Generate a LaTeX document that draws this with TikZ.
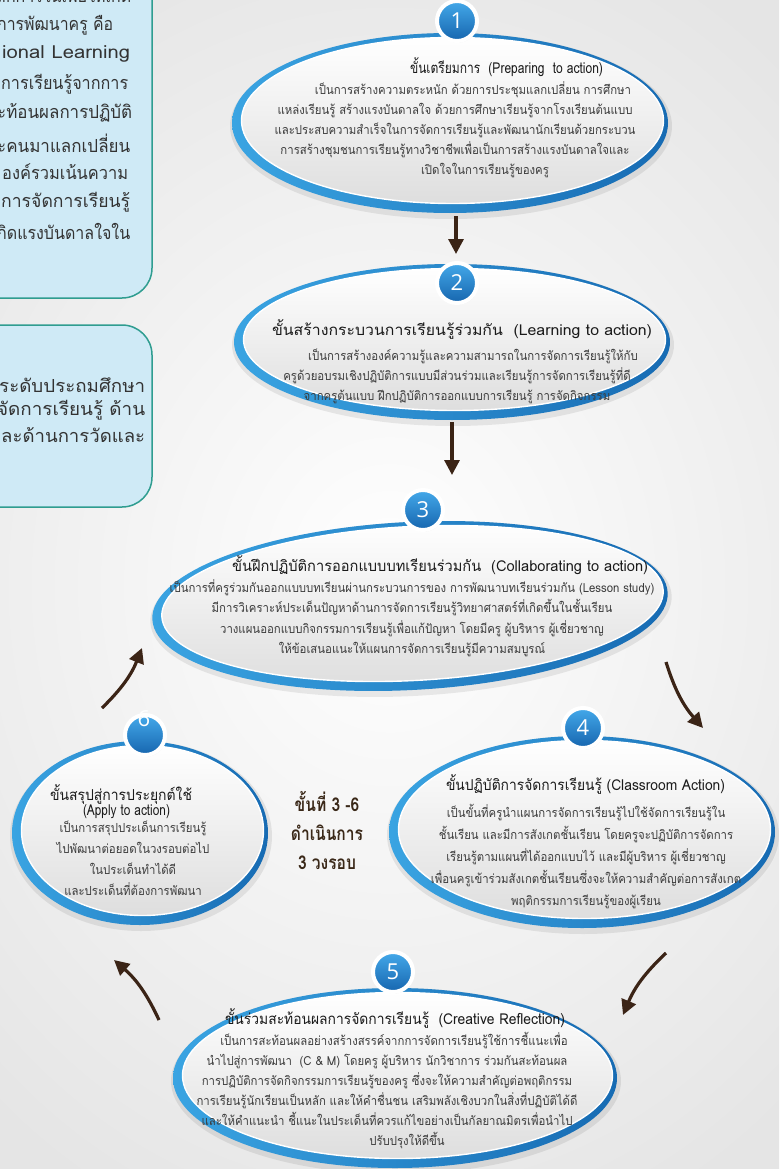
\documentclass[tikz,border=0pt]{standalone}
\usepackage{fontspec}
\usepackage{graphicx}
\usetikzlibrary{shapes.geometric,shadows,arrows.meta,calc}
\newfontfamily\thaifont[Script=Thai]{Loma}
\newfontfamily\thaibody[Script=Thai,FakeStretch=0.91]{Loma}
\newfontfamily\thailoop[Script=Thai,FakeStretch=0.82]{Loma}
\newfontfamily\numfont{Open Sans}
\definecolor{ringlight}{HTML}{3AA4E2}
\definecolor{ringdark}{HTML}{176BB3}
\definecolor{badgetop}{HTML}{44A9EA}
\definecolor{badgebot}{HTML}{1665AE}
\definecolor{flowbrown}{HTML}{3B2416}
\definecolor{boxfill}{HTML}{CFEAF6}
\definecolor{boxedge}{HTML}{2F9D90}
\definecolor{titleink}{HTML}{1A1A1A}
\definecolor{bodyink}{HTML}{3C3C3C}
\definecolor{sideink}{HTML}{333333}
\definecolor{loopink}{HTML}{3A2818}

% set a line of text and stretch it horizontally to a given width (in pt)
\newsavebox\fitbox
\newcommand\fitto[2]{\sbox\fitbox{#2}\pgfmathsetmacro\fitratio{#1/\the\wd\fitbox}\scalebox{\fitratio}[1]{\usebox\fitbox}}

\tikzset{
  ovalring/.style={ellipse, inner sep=0pt, left color=ringlight, right color=ringdark},
  ovalcore/.style={ellipse, inner sep=0pt, top color=white, bottom color=black!13, draw=white, line width=1.4pt},
  ovalhalo/.style={ellipse, inner sep=0pt, fill=black, opacity=0.08},
  badge/.style={circle, minimum size=40pt, inner sep=0pt, top color=badgetop, bottom color=badgebot,
    draw=white, line width=4pt, text=white, font=\numfont\fontsize{22}{22}\selectfont,
    drop shadow={opacity=0.25, shadow xshift=1pt, shadow yshift=-1.5pt}},
  steptitle/.style={font=\thaifont\fontsize{15}{18}\selectfont, text=titleink, inner sep=0pt},
  stepbody/.style={font=\thaibody\fontsize{12.5}{#1}\selectfont, text=bodyink, align=center, inner sep=0pt},
  stepbody/.default=20,
  sidebox/.style={draw=boxedge, line width=1.5pt, fill=boxfill, rounded corners=30pt},
  sidetext/.style={font=\thaifont\fontsize{18}{20}\selectfont, text=sideink, anchor=west, inner sep=0pt},
  looptext/.style={font=\thailoop\bfseries\fontsize{19}{29}\selectfont, text=loopink, align=center, inner sep=0pt},
  flow/.style={draw=flowbrown, line width=3.2pt, -{Triangle[length=15pt,width=15pt]}},
}

\begin{document}
\begin{tikzpicture}[x=1pt,y=-1pt]
\useasboundingbox (0,0) rectangle (779,1169);
\clip (0,0) rectangle (779,1169);
\shade[inner color=white, outer color=black!10] (-200,-100) rectangle (979,1269);

% side panels
\path[sidebox] (-40,-40) rectangle (152,298);
\path[sidebox] (-40,325) rectangle (152,507);
\node[sidetext] (sa0) at (-4,-7) {\fitto{135}{ลักการในเพื่อให้เกิด}};
\node[sidetext] (sa1) at (-3,25) {\fitto{116}{การพัฒนาครู คือ}};
\node[sidetext] (sa2) at (2,54) {\fitto{128}{ional Learning}};
\node[sidetext] (sa3) at (1,84) {\fitto{127}{การเรียนรู้จากการ}};
\node[sidetext] (sa4) at (-3,113) {\fitto{135}{ะท้อนผลการปฏิบัติ}};
\node[sidetext] (sa5) at (-3,143) {\fitto{133}{ะคนมาแลกเปลี่ยน}};
\node[sidetext] (sa6) at (2,172) {\fitto{126}{องค์รวมเน้นความ}};
\node[sidetext] (sa7) at (1,202) {\fitto{129}{การจัดการเรียนรู้}};
\node[sidetext] (sa8) at (-3,231) {\fitto{133}{กิดแรงบันดาลใจใน}};
\node[sidetext] (sb1) at (-1,385) {\fitto{146}{ระดับประถมศึกษา}};
\node[sidetext] (sb2) at (-3,410) {\fitto{148}{จัดการเรียนรู้ ด้าน}};
\node[sidetext] (sb3) at (1,435) {\fitto{144}{ละด้านการวัดและ}};

% step 1
\node[ovalhalo, minimum width=442, minimum height=186] at (451,126) {};
\node[ovalring, minimum width=436, minimum height=180] (e1) at (450,123) {};
\node[ovalcore, minimum width=422, minimum height=166] (e1in) at (452.5,120.5) {};
\node[badge] (b1) at (457,21) {1};
\node[steptitle] (t1) at (506.5,67) {\fitto{193}{ขั้นเตรียมการ~~(Preparing~~to action)}};
\node[stepbody] (d1) at (455,129.5) {\hspace*{36pt}เป็นการสร้างความตระหนัก ด้วยการประชุมแลกเปลี่ยน การศึกษา\\
แหล่งเรียนรู้ สร้างแรงบันดาลใจ ด้วยการศึกษาเรียนรู้จากโรงเรียนต้นแบบ\\
และประสบความสำเร็จในการจัดการเรียนรู้และพัฒนานักเรียนด้วยกระบวน\\
การสร้างชุมชนการเรียนรู้ทางวิชาชีพเพื่อเป็นการสร้างแรงบันดาลใจและ\\
\hspace*{60pt}เปิดใจในการเรียนรู้ของครู};

% step 2
\node[ovalhalo, minimum width=442, minimum height=162] at (453,345) {};
\node[ovalring, minimum width=436, minimum height=156] (e2) at (452,342) {};
\node[ovalcore, minimum width=422, minimum height=142] (e2in) at (454.5,339.5) {};
\node[badge] (b2) at (457,283) {2};
\node[steptitle] (t2) at (462,330) {\fitto{380}{ขั้นสร้างกระบวนการเรียนรู้ร่วมกัน~~(Learning to action)}};
\node[stepbody] (d2) at (457,376.5) {\hspace*{32pt}เป็นการสร้างองค์ความรู้และความสามารถในการจัดการเรียนรู้ให้กับ\\
ครูด้วยอบรมเชิงปฏิบัติการแบบมีส่วนร่วมและเรียนรู้การจัดการเรียนรู้ที่ดี\\
จากครูต้นแบบ ฝึกปฏิบัติการออกแบบการเรียนรู้ การจัดกิจกรรม};

% step 3
\node[ovalhalo, rotate=3, minimum width=522, minimum height=174] at (411,609) {};
\node[ovalring, rotate=3, minimum width=516, minimum height=168] (e3) at (410,606) {};
\node[ovalcore, rotate=3, minimum width=502, minimum height=154] (e3in) at (412.5,603.5) {};
\node[badge] (b3) at (423,510) {3};
\node[steptitle] (t3) at (440,565) {\fitto{416}{ขั้นฝึกปฏิบัติการออกแบบบทเรียนร่วมกัน~~(Collaborating to action)}};
\node[stepbody=20.5] (d3) at (412,618) {เป็นการที่ครูร่วมกันออกแบบบทเรียนผ่านกระบวนการของ การพัฒนาบทเรียนร่วมกัน (Lesson study)\\
มีการวิเคราะห์ประเด็นปัญหาด้านการจัดการเรียนรู้วิทยาศาสตร์ที่เกิดขึ้นในชั้นเรียน\\
วางแผนออกแบบกิจกรรมการเรียนรู้เพื่อแก้ปัญหา โดยมีครู ผู้บริหาร ผู้เชี่ยวชาญ\\
ให้ข้อเสนอแนะให้แผนการจัดการเรียนรู้มีความสมบูรณ์};

% step 4
\node[ovalhalo, minimum width=392, minimum height=198] at (583,835) {};
\node[ovalring, minimum width=386, minimum height=192] (e4) at (582,832) {};
\node[ovalcore, minimum width=372, minimum height=178] (e4in) at (584.5,829.5) {};
\node[badge] (b4) at (583,728) {4};
\node[steptitle] (t4) at (585.5,784) {\fitto{279}{ขั้นปฏิบัติการจัดการเรียนรู้ (Classroom Action)}};
\node[stepbody=22] (d4) at (586,856) {เป็นขั้นที่ครูนำแผนการจัดการเรียนรู้ไปใช้จัดการเรียนรู้ใน\\
ชั้นเรียน และมีการสังเกตชั้นเรียน โดยครูจะปฏิบัติการจัดการ\\
เรียนรู้ตามแผนที่ได้ออกแบบไว้ และมีผู้บริหาร ผู้เชี่ยวชาญ\\
เพื่อนครูเข้าร่วมสังเกตชั้นเรียนซึ่งจะให้ความสำคัญต่อการสังเกต\\
พฤติกรรมการเรียนรู้ของผู้เรียน};

% step 5
\node[ovalhalo, minimum width=450, minimum height=186] at (396,1081) {};
\node[ovalring, minimum width=444, minimum height=180] (e5) at (395,1078) {};
\node[ovalcore, minimum width=430, minimum height=166] (e5in) at (397.5,1075.5) {};
\node[badge] (b5) at (393,972) {5};
\node[steptitle] (t5) at (395,1018) {\fitto{340}{ขั้นร่วมสะท้อนผลการจัดการเรียนรู้~~(Creative Reflection)}};
\node[stepbody] (d5) at (387,1090) {\hspace*{14pt}เป็นการสะท้อนผลอย่างสร้างสรรค์จากการจัดการเรียนรู้ใช้การชี้แนะเพื่อ\\
นำไปสู่การพัฒนา~~(C \& M) โดยครู ผู้บริหาร นักวิชาการ ร่วมกันสะท้อนผล\\
การปฏิบัติการจัดกิจกรรมการเรียนรู้ของครู ซึ่งจะให้ความสำคัญต่อพฤติกรรม\\
การเรียนรู้นักเรียนเป็นหลัก และให้คำชื่นชน เสริมพลังเชิงบวกในสิ่งที่ปฏิบัติได้ดี\\
และให้คำแนะนำ ชี้แนะในประเด็นที่ควรแก้ไขอย่างเป็นกัลยาณมิตรเพื่อนำไป\\
\hspace*{40pt}ปรับปรุงให้ดีขึ้น};

% step 6
\node[ovalhalo, minimum width=262, minimum height=190] at (141,836) {};
\node[ovalring, minimum width=256, minimum height=184] (e6) at (140,833) {};
\node[ovalcore, minimum width=242, minimum height=170] (e6in) at (142.5,830.5) {};
\node[badge] (b6) at (145,735) {};
\node[text=white, font=\numfont\fontsize{22}{22}\selectfont, inner sep=0pt] (n6) at (144,719) {6};
\node[steptitle] (t6) at (121,794) {\fitto{142}{ขั้นสรุปสู่การประยุกต์ใช้}};
\node[steptitle] (t6b) at (126.5,812) {\fitto{87}{(Apply to action)}};
\node[stepbody=21] (d6) at (133,858) {เป็นการสรุปประเด็นการเรียนรู้\\
ไปพัฒนาต่อยอดในวงรอบต่อไป\\
ในประเด็นทำได้ดี\\
และประเด็นที่ต้องการพัฒนา};

% cycle note
\node[looptext] (loop) at (327,830) {ขั้นที่ 3 -6\\ ดำเนินการ\\ 3 วงรอบ};

% connectors
\coordinate (a12s) at (456,216);
\coordinate (a12e) at (456,254);
\coordinate (a23s) at (452,422);
\coordinate (a23e) at (452,475);
\coordinate (a63s) at (102,708);
\coordinate (a63e) at (142,648);
\coordinate (a34s) at (666,662);
\coordinate (a34e) at (703,728);
\coordinate (a45s) at (666,953);
\coordinate (a45e) at (623,1015);
\coordinate (a56s) at (159,1020);
\coordinate (a56e) at (114,960);
\draw[flow] (a12s) -- (a12e);
\draw[flow] (a23s) -- (a23e);
\draw[flow] (a63s) to[bend right=12] (a63e);
\draw[flow] (a34s) to[bend right=12] (a34e);
\draw[flow] (a45s) to[bend right=12] (a45e);
\draw[flow] (a56s) to[bend right=12] (a56e);
\end{tikzpicture}
\end{document}
